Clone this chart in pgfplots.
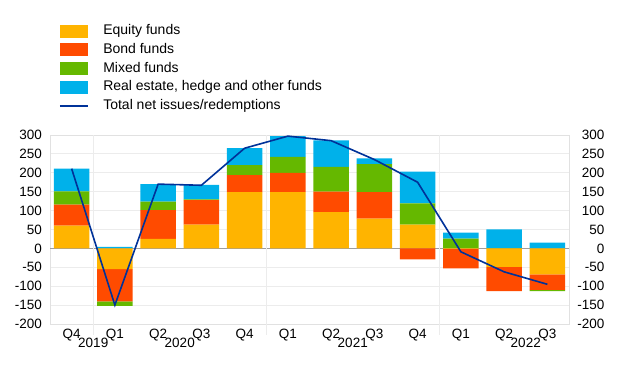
\documentclass[border=0pt]{standalone}
\usepackage{pgfplots}
\pgfplotsset{compat=1.18}
\usepackage{pgfplotstable}
\usepackage{fontspec}
\setmainfont{Liberation Sans}
\definecolor{eq}{RGB}{255,180,0}
\definecolor{bo}{RGB}{255,75,0}
\definecolor{mi}{RGB}{101,184,0}
\definecolor{ot}{RGB}{0,177,234}
\definecolor{tot}{RGB}{0,50,153}
\definecolor{gridc}{RGB}{236,236,236}
\definecolor{framec}{RGB}{225,225,225}

\pgfplotstableread{
x eqp eqn bop bon mip min otp otn tot
0 60 0 56 0 35 0 60 0 211
1 0 -55 0 -85 0 -12 4 0 -150
2 25 0 76 0 23 0 46 0 170
3 63 0 65 0 2 0 38 0 167
4 149 0 45 0 26 0 45 0 265
5 149 0 51 0 42 0 55 0 297
6 96 0 54 0 66 0 70 0 285
7 79 0 70 0 74 0 15 0 235
8 63 0 0 -29 56 0 84 0 175
9 0 -1 0 -52 26 0 16 0 -9
10 0 -49 0 -64 1 0 49 0 -62
11 0 -69 0 -41 0 -3 15 0 -95
}\data

\pgfplotsset{
  base/.style={
    scale only axis, width=519pt, height=189pt,
    at={(50pt,63pt)}, anchor=south west,
    xmin=-0.5, xmax=11.5, ymin=-200, ymax=300,
    ytick={-200,-150,...,300}, xtick={0,...,11},
    major tick length=0pt,
    tick label style={font=\fontsize{13.5}{16}\selectfont},
    /pgf/number format/assume math mode=true,
    clip=false,
  },
  patchleg/.style={legend image code/.code={\fill[##1] (0pt,-6.5pt) rectangle (28pt,6.5pt);}},
  lineleg/.style={legend image code/.code={\draw[##1] (0pt,0pt) -- (28pt,0pt);}},
}

\begin{document}
\begin{tikzpicture}
\useasboundingbox (0pt,0pt) rectangle (620pt,387pt);
% axis 1: frame, grid, labels, positive parts
\begin{axis}[base, ybar stacked, bar width=0.82,
  axis line style={framec},
  ymajorgrids, grid style={gridc, line width=0.8pt},
  extra y ticks={0}, extra y tick labels={},
  extra y tick style={grid=major, major grid style={black!38, line width=1.1pt}},
  xticklabels={Q4,Q1,Q2,Q3,Q4,Q1,Q2,Q3,Q4,Q1,Q2,Q3},
  xticklabel style={yshift=-1.5pt},
  yticklabel style={xshift=-4.5pt},
  legend cell align=left,
  legend style={at={(axis description cs:0.0173,1.6)}, anchor=north west,
    draw=none, fill=none, inner sep=0pt, row sep=0pt, column sep=0pt,
    font=\fontsize{14}{16}\selectfont,
    nodes={inner sep=2.5pt, text height=10.5pt, text depth=3.2pt}},
]
\addplot[fill=eq, draw=none, patchleg] table[x=x, y=eqp] {\data};
\addlegendentry{\hspace{12pt}Equity funds}
\addplot[fill=bo, draw=none, patchleg] table[x=x, y=bop] {\data};
\addlegendentry{\hspace{12pt}Bond funds}
\addplot[fill=mi, draw=none, patchleg] table[x=x, y=mip] {\data};
\addlegendentry{\hspace{12pt}Mixed funds}
\addplot[fill=ot, draw=none, patchleg] table[x=x, y=otp] {\data};
\addlegendentry{\hspace{12pt}Real estate, hedge and other funds}
\addlegendimage{tot, line width=1.6pt, lineleg}
\addlegendentry{\hspace{12pt}Total net issues/redemptions}
\foreach \s in {0.5,4.5,8.5} {
  \edef\tmp{\noexpand\draw[gridc, line width=0.8pt] (axis cs:\s,300) -- ([yshift=-11pt]axis cs:\s,-200);}
  \tmp
}
\node[font=\fontsize{13.5}{16}\selectfont] at ([yshift=-19pt]axis cs:0.5,-200) {2019};
\node[font=\fontsize{13.5}{16}\selectfont] at ([yshift=-19pt]axis cs:2.5,-200) {2020};
\node[font=\fontsize{13.5}{16}\selectfont] at ([yshift=-19pt]axis cs:6.5,-200) {2021};
\node[font=\fontsize{13.5}{16}\selectfont] at ([yshift=-19pt]axis cs:10.5,-200) {2022};
\end{axis}
% axis 2: negative parts
\begin{axis}[base, ybar stacked, bar width=0.82,
  axis line style={draw=none}, xticklabels={}, yticklabels={}]
\addplot[fill=eq, draw=none] table[x=x, y=eqn] {\data};
\addplot[fill=bo, draw=none] table[x=x, y=bon] {\data};
\addplot[fill=mi, draw=none] table[x=x, y=min] {\data};
\addplot[fill=ot, draw=none] table[x=x, y=otn] {\data};
\end{axis}
% axis 3: total line and right labels
\begin{axis}[base, axis line style={draw=none}, xticklabels={},
  yticklabel pos=right, yticklabel style={anchor=east, xshift=39pt}]
\addplot[tot, line width=1.6pt, mark=none] table[x=x, y=tot] {\data};
\end{axis}
\end{tikzpicture}
\end{document}
